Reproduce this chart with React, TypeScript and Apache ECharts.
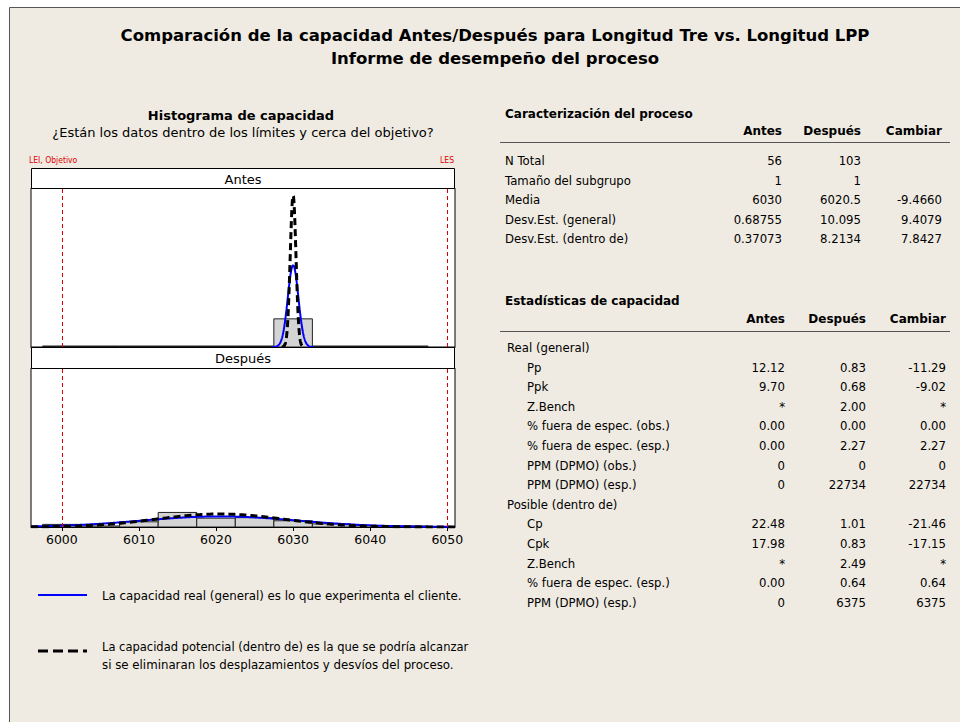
import React, { useEffect, useRef } from "react";
import * as echarts from "echarts";

// ---------- data ----------
const binStarts = [5997.5, 6002.5, 6007.5, 6012.5, 6017.5, 6022.5, 6027.5, 6032.5, 6037.5, 6042.5];
const binWidth = 5;
const antesCounts = [0, 0, 0, 0, 0, 0, 56, 0, 0, 0];
const despuesCounts = [5, 2, 10, 28, 17, 18, 12, 6, 3, 2];
const nTotal = [56, 103];
const means = [6030, 6020.5];
const sdOverall = [0.68755, 10.095];
const sdWithin = [0.37073, 8.2134];
const specLimits = [6000, 6050];
const tickValues = [6000, 6010, 6020, 6030, 6040, 6050];
const xRange = [5996, 6051];
const yMax = [1.13, 0.594];

const charLabels = ["N Total", "Tamaño del subgrupo", "Media", "Desv.Est. (general)", "Desv.Est. (dentro de)"];
const charAntes = ["56", "1", "6030", "0.68755", "0.37073"];
const charDespues = ["103", "1", "6020.5", "10.095", "8.2134"];
const charCambiar = ["", "", "-9.4660", "9.4079", "7.8427"];

const capLabels = [
  "Real (general)", "Pp", "Ppk", "Z.Bench", "% fuera de espec. (obs.)", "% fuera de espec. (esp.)",
  "PPM (DPMO) (obs.)", "PPM (DPMO) (esp.)", "Posible (dentro de)", "Cp", "Cpk", "Z.Bench",
  "% fuera de espec. (esp.)", "PPM (DPMO) (esp.)",
];
const capIndent = [0, 1, 1, 1, 1, 1, 1, 1, 0, 1, 1, 1, 1, 1];
const capAntes = ["", "12.12", "9.70", "*", "0.00", "0.00", "0", "0", "", "22.48", "17.98", "*", "0.00", "0"];
const capDespues = ["", "0.83", "0.68", "2.00", "0.00", "2.27", "0", "22734", "", "1.01", "0.83", "2.49", "0.64", "6375"];
const capCambiar = ["", "-11.29", "-9.02", "*", "0.00", "2.27", "0", "22734", "", "-21.46", "-17.15", "*", "0.64", "6375"];

const FONT = "'DejaVu Sans', sans-serif";
const FONT_C = "'DejaVu Sans Condensed', 'DejaVu Sans', sans-serif";

// fitted normal curve over mean ± 4 sigma (clipped to the axis range)
function normalCurve(m: number, s: number) {
  const pts: number[][] = [];
  const lo = Math.max(xRange[0], m - 4 * s);
  const hi = Math.min(xRange[1], m + 4 * s);
  const steps = 800;
  for (let i = 0; i <= steps; i++) {
    const x = lo + ((hi - lo) * i) / steps;
    const y = Math.exp(-0.5 * ((x - m) / s) ** 2) / (s * Math.sqrt(2 * Math.PI));
    pts.push([x, y]);
  }
  return pts;
}

export default function App() {
  const ref = useRef<HTMLDivElement>(null);
  useEffect(() => {
    if (!ref.current) return;
    const chart = echarts.init(ref.current, null, { renderer: "svg" });

    const gridTops = [188, 368];
    const gridH = 159;
    const gridLeft = 31;
    const gridRight = 960 - 455;

    const histSeries = (gi: number, counts: number[]) => ({
      type: "custom",
      xAxisIndex: gi,
      yAxisIndex: gi,
      silent: true,
      z: 1,
      clip: true,
      data: binStarts.map((s, i) => [s, s + binWidth, counts[i] / (nTotal[gi] * binWidth)]),
      encode: { x: [0, 1], y: 2 },
      renderItem: (params: any, api: any) => {
        const s = api.value(0), e = api.value(1), d = api.value(2);
        const p0 = api.coord([s, d]);
        const p1 = api.coord([e, 0]);
        const raw = p1[1] - p0[1];
        const empty = raw < 1;
        const h = empty ? 1 : raw;
        return {
          type: "rect",
          shape: { x: p0[0], y: p1[1] - h, width: p1[0] - p0[0], height: h },
          style: { fill: empty ? "#111" : "#d4d4d4", stroke: "#222", lineWidth: 1 },
        };
      },
    });

    const curveSeries = (gi: number, within: boolean) => ({
      type: "line",
      xAxisIndex: gi,
      yAxisIndex: gi,
      silent: true,
      showSymbol: false,
      symbol: "none",
      z: within ? 4 : 3,
      data: normalCurve(means[gi], within ? sdWithin[gi] : sdOverall[gi]),
      lineStyle: within
        ? { color: "#000", width: 3, type: [7, 4] }
        : { color: "#0000ff", width: 2 },
      markLine: within
        ? undefined
        : {
            silent: true,
            symbol: "none",
            label: { show: false },
            lineStyle: { color: "#e00000", type: [4, 3], width: 1 },
            data: specLimits.map((v) => ({ xAxis: v })),
          },
    });

    const graphics: any[] = [];
    // outer white margins and frame
    graphics.push({ type: "rect", shape: { x: 0, y: 0, width: 960, height: 7 }, style: { fill: "#fff" }, z: 50 });
    graphics.push({ type: "rect", shape: { x: 0, y: 0, width: 9, height: 722 }, style: { fill: "#fff" }, z: 50 });
    graphics.push({ type: "line", shape: { x1: 9.5, y1: 7.5, x2: 960, y2: 7.5 }, style: { stroke: "#555", lineWidth: 1 }, z: 51 });
    graphics.push({ type: "line", shape: { x1: 9.5, y1: 7.5, x2: 9.5, y2: 722 }, style: { stroke: "#555", lineWidth: 1 }, z: 51 });

    const txt = (x: number, y: number, text: string, opts: any = {}) => ({
      type: "text",
      x,
      y,
      z: 60,
      style: {
        text,
        fill: opts.color || "#000",
        font: `${opts.bold ? "bold " : ""}${opts.size || 11.7}px ${opts.font || FONT}`,
        textAlign: opts.align || "left",
        textVerticalAlign: "middle",
      },
    });

    graphics.push(txt(495, 35, "Comparación de la capacidad Antes/Después para Longitud Tre vs. Longitud LPP", { bold: true, size: 16.5, align: "center" }));
    graphics.push(txt(495, 58, "Informe de desempeño del proceso", { bold: true, size: 16.5, align: "center" }));
    graphics.push(txt(241, 115, "Histograma de capacidad", { bold: true, size: 13, align: "center" }));
    graphics.push(txt(243, 132, "¿Están los datos dentro de los límites y cerca del objetivo?", { size: 13, align: "center" }));
    graphics.push(txt(29, 160, "LEI, Objetivo", { size: 8.5, color: "#e00000", font: FONT_C }));
    graphics.push(txt(454, 160, "LES", { size: 8.5, color: "#e00000", align: "right", font: FONT_C }));

    // strip headers
    const strips = [
      { y: 168, h: 20, label: "Antes" },
      { y: 347, h: 21, label: "Después" },
    ];
    strips.forEach((s) => {
      graphics.push({
        type: "rect",
        z: 55,
        shape: { x: gridLeft + 0.5, y: s.y + 0.5, width: 455 - gridLeft - 1, height: s.h },
        style: { fill: "#fff", stroke: "#000", lineWidth: 1 },
      });
      graphics.push(txt(243, s.y + s.h / 2 + 1, s.label, { size: 13, align: "center" }));
    });

    // table 1
    graphics.push(txt(505, 114, "Caracterización del proceso", { bold: true, size: 12 }));
    const c1 = [782, 861, 942];
    ["Antes", "Después", "Cambiar"].forEach((h, i) => graphics.push(txt(c1[i], 131, h, { bold: true, size: 12, align: "right" })));
    graphics.push({ type: "line", z: 55, shape: { x1: 500, y1: 142.5, x2: 950, y2: 142.5 }, style: { stroke: "#555", lineWidth: 1 } });
    charLabels.forEach((l, i) => {
      const y = 161 + i * 19.5;
      graphics.push(txt(505, y, l));
      graphics.push(txt(c1[0], y, charAntes[i], { align: "right" }));
      graphics.push(txt(c1[1], y, charDespues[i], { align: "right" }));
      graphics.push(txt(c1[2], y, charCambiar[i], { align: "right" }));
    });

    // table 2
    graphics.push(txt(505, 301, "Estadísticas de capacidad", { bold: true, size: 12 }));
    const c2 = [785, 866, 946];
    ["Antes", "Después", "Cambiar"].forEach((h, i) => graphics.push(txt(c2[i], 319, h, { bold: true, size: 12, align: "right" })));
    graphics.push({ type: "line", z: 55, shape: { x1: 500, y1: 331.5, x2: 950, y2: 331.5 }, style: { stroke: "#555", lineWidth: 1 } });
    capLabels.forEach((l, i) => {
      const y = 348 + i * 19.6;
      graphics.push(txt(capIndent[i] ? 527 : 507, y, l));
      graphics.push(txt(c2[0], y, capAntes[i], { align: "right" }));
      graphics.push(txt(c2[1], y, capDespues[i], { align: "right" }));
      graphics.push(txt(c2[2], y, capCambiar[i], { align: "right" }));
    });

    // legend
    graphics.push({ type: "line", z: 55, shape: { x1: 38, y1: 595, x2: 87, y2: 595 }, style: { stroke: "#0000ff", lineWidth: 2 } });
    graphics.push(txt(102, 596, "La capacidad real (general) es lo que experimenta el cliente.", { size: 11.8 }));
    graphics.push({ type: "line", z: 55, shape: { x1: 38, y1: 651, x2: 87, y2: 651 }, style: { stroke: "#000", lineWidth: 3, lineDash: [10, 5] } });
    graphics.push(txt(102, 647, "La capacidad potencial (dentro de) es la que se podría alcanzar", { size: 11.5 }));
    graphics.push(txt(102, 665, "si se eliminaran los desplazamientos y desvíos del proceso.", { size: 11.8 }));

    const option: any = {
      animation: false,
      backgroundColor: "#EFEBE2",
      textStyle: { fontFamily: FONT },
      grid: gridTops.map((t) => ({
        left: gridLeft,
        right: gridRight,
        top: t,
        height: gridH,
        show: true,
        backgroundColor: "#fff",
        borderColor: "#000",
        borderWidth: 1,
      })),
      xAxis: [0, 1].map((gi) => ({
        type: "value",
        gridIndex: gi,
        min: xRange[0],
        max: xRange[1],
        axisLine: { show: true, lineStyle: { color: "#000" } },
        axisTick: gi === 1 ? { show: true, length: 4, inside: false, customValues: tickValues, lineStyle: { color: "#000" } } : { show: false },
        axisLabel: gi === 1
          ? { show: true, customValues: tickValues, color: "#000", fontSize: 12.5, margin: 6, fontFamily: FONT, formatter: (v: number) => String(v) }
          : { show: false },
        splitLine: { show: false },
      })),
      yAxis: [0, 1].map((gi) => ({
        type: "value",
        gridIndex: gi,
        min: 0,
        max: yMax[gi],
        show: false,
        splitLine: { show: false },
      })),
      series: [
        histSeries(0, antesCounts),
        curveSeries(0, false),
        curveSeries(0, true),
        histSeries(1, despuesCounts),
        curveSeries(1, false),
        curveSeries(1, true),
      ],
      graphic: graphics,
    };
    chart.setOption(option);
    return () => chart.dispose();
  }, []);

  return (
    <div
      ref={ref}
      style={{ position: "absolute", left: 0, top: 0, width: 960, height: 722 }}
    />
  );
}
